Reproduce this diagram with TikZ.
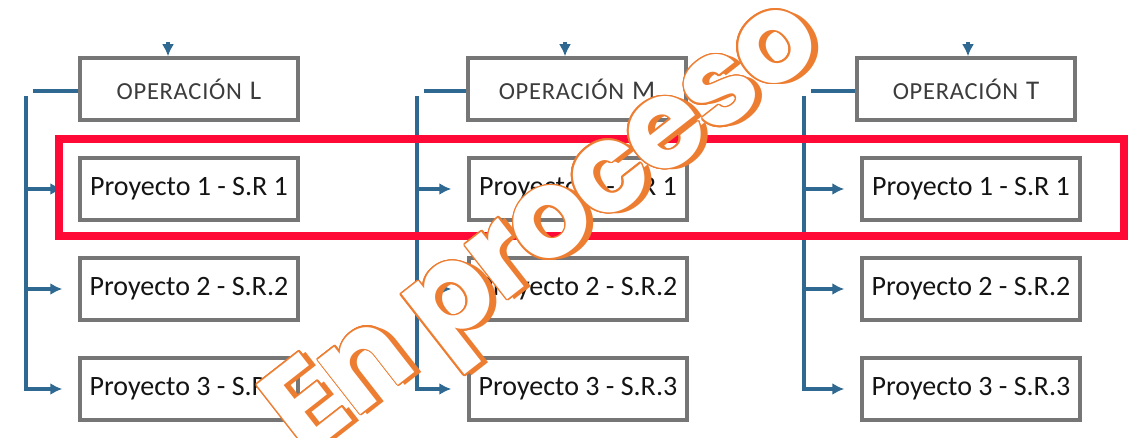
\documentclass[tikz,border=0pt]{standalone}
\usepackage{fontspec}
\setmainfont{Carlito}
\newfontfamily\wmfont{Poppins}
\usetikzlibrary{arrows.meta}
\usetikzlibrary{calc}
\definecolor{boxgray}{HTML}{767676}
\definecolor{flowblue}{HTML}{2F6890}
\definecolor{optext}{HTML}{3C3C3C}
\definecolor{hired}{HTML}{FF0A37}
\definecolor{wmorange}{HTML}{ED7D31}
\newcommand\opname[1]{{\fontsize{24.5}{26}\selectfont\addfontfeatures{LetterSpace=3}OPERACIÓN}\hspace{8pt}{\fontsize{27}{29}\selectfont #1}\hspace{18pt}}
\newcommand\wmtext{\addfontfeatures{LetterSpace=-3}En proceso}
\tikzstyle{opbox}=[draw=boxgray, line width=3.5pt, minimum width=218pt, minimum height=62pt, inner sep=0pt, text=optext]
\tikzstyle{prbox}=[opbox, text=black!92, font=\fontsize{28}{30}\selectfont]
\tikzstyle{trunk}=[line width=4pt, draw=flowblue]
\tikzstyle{flow} =[trunk, -{Latex[length=12pt,width=12pt]}]
\tikzstyle{wmark}=[rotate=38, anchor=base, inner sep=0pt, font=\wmfont\bfseries\fontsize{124}{126}\selectfont]

\begin{document}
\begin{tikzpicture}[x=1pt,y=-1pt]
	\useasboundingbox[fill=white] (0,0) rectangle (1138,438);
	\foreach \c/\ox/\px/\tx/\tr in {L/189/189/168/26, M/577/578/565/417, T/966/971/968/804}{
		\node[opbox] (op\c) at (\ox,89) {\opname{\c}};
		\foreach \n/\y/\sr in {1/189/S.R 1, 2/289/S.R.2, 3/389/S.R.3}
			\node[prbox] (p\c\n) at (\px,\y) {Proyecto \n\ - \sr};
		\coordinate (top\c) at (\tx,42);
		\coordinate (tr\c) at (\tr,96);
		\coordinate (stub\c) at (\tr+7,91);
		\draw[flow]  (top\c) -- (top\c |- op\c.north);
		\draw[trunk] (stub\c) -- (stub\c -| op\c.west);
		\draw[flow]  (tr\c |- p\c1) -- ([xshift=-16pt]p\c1.west);
		\draw[flow]  (tr\c |- p\c2) -- ([xshift=-16pt]p\c2.west);
		\draw[flow]  (tr\c) |- ([xshift=-16pt]p\c3.west);
	}
	% highlighted row
	\draw[hired, line width=8pt] (59,139) rectangle (1124,236);
	% watermark
	\coordinate (wm) at (566,254);
	\node[wmark, text=wmorange, xshift=5pt, yshift=-5pt] at (wm) {\wmtext};
	\foreach \a in {0,20,...,340}
		\node[wmark, text=wmorange, shift={(\a:1.5pt)}] at (wm) {\wmtext};
	\node[wmark, text=white] (proc) at (wm) {\wmtext};
\end{tikzpicture}
\end{document}
